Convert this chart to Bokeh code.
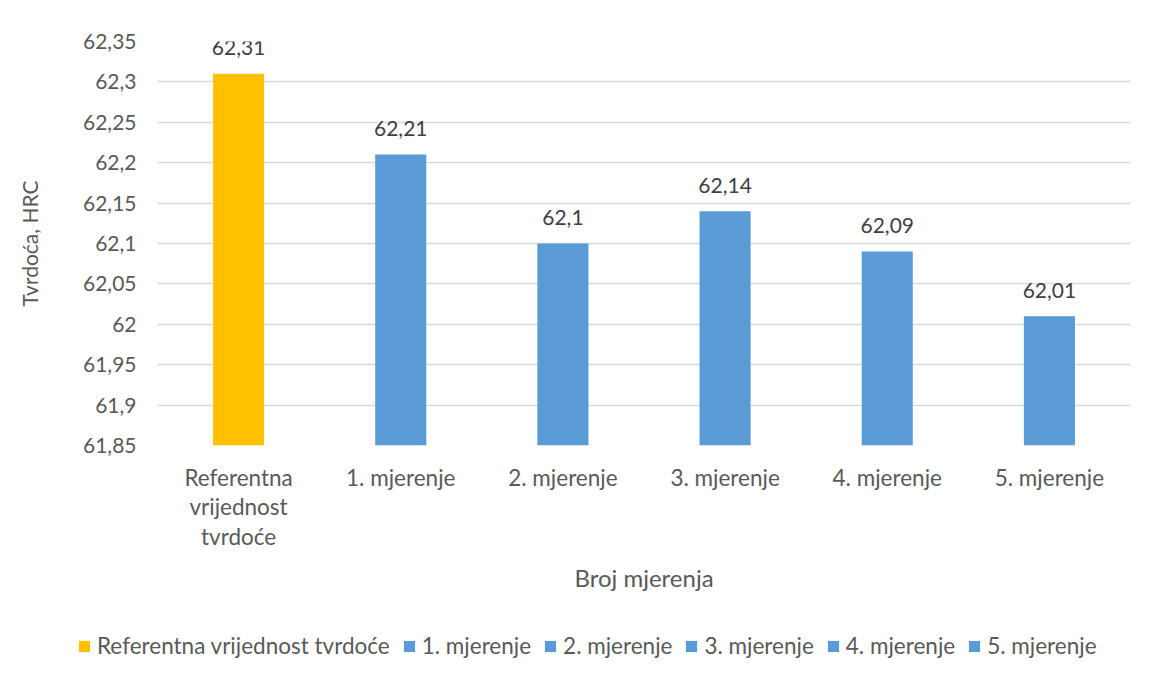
from bokeh.plotting import figure
from bokeh.models import (ColumnDataSource, FactorRange, FixedTicker, CustomJSTickFormatter,
                          Legend, LegendItem, LabelSet, Range1d)
from bokeh.core.properties import value
from bokeh.embed import file_html
from bokeh.resources import INLINE

categories = ["Referentna\nvrijednost\ntvrdoće", "1. mjerenje", "2. mjerenje",
              "3. mjerenje", "4. mjerenje", "5. mjerenje"]
legend_names = ["Referentna vrijednost tvrdoće", "1. mjerenje", "2. mjerenje",
                "3. mjerenje", "4. mjerenje", "5. mjerenje"]
values = [62.31, 62.21, 62.10, 62.14, 62.09, 62.01]
value_labels = ["62,31", "62,21", "62,1", "62,14", "62,09", "62,01"]
colors = ["#FFC000", "#5B9BD5", "#5B9BD5", "#5B9BD5", "#5B9BD5", "#5B9BD5"]
y_ticks = [61.85, 61.9, 61.95, 62.0, 62.05, 62.1, 62.15, 62.2, 62.25, 62.3, 62.35]

FONT = "Lato"
GRAY = "#595959"

p = figure(width=1133, height=610, x_range=FactorRange(*categories),
           y_range=Range1d(61.85, 62.35), output_backend="svg", toolbar_location=None,
           min_border_left=157, min_border_right=3, min_border_top=41, min_border_bottom=165)
p.outline_line_color = None
p.background_fill_color = "white"
p.border_fill_color = "white"

for i, cat in enumerate(categories):
    src = ColumnDataSource(dict(x=[cat], top=[values[i]], lab=[value_labels[i]]))
    p.vbar(x="x", top="top", bottom=61.85, width=0.315, source=src,
           fill_color=colors[i], line_color=None)
    ls = LabelSet(x="x", y="top", text="lab", source=src, text_align="center",
                  text_baseline="middle", y_offset=26, text_font=value(FONT),
                  text_font_size="21px", text_color="#404040")
    p.add_layout(ls)

p.yaxis.ticker = FixedTicker(ticks=y_ticks)
p.yaxis.formatter = CustomJSTickFormatter(code="""
var s = tick.toFixed(2);
s = s.replace(/0+$/, '').replace(/\\.$/, '');
return s.replace('.', ',');
""")
for ax in (p.xaxis, p.yaxis):
    ax.axis_line_color = None
    ax.major_tick_line_color = None
    ax.minor_tick_line_color = None
    ax.major_label_text_font = FONT
    ax.major_label_text_font_size = "21px"
    ax.major_label_text_color = GRAY
    ax.axis_label_text_font = FONT
    ax.axis_label_text_font_size = "21px"
    ax.axis_label_text_color = GRAY
    ax.axis_label_text_font_style = "normal"

p.yaxis.major_label_standoff = 15
p.yaxis.axis_label = "Tvrdoća, HRC"
p.yaxis.axis_label_standoff = 38
p.xaxis.major_label_standoff = 12
p.xaxis.major_label_text_font_size = "22.5px"
p.xaxis.major_label_text_line_height = 1.1
p.xaxis.axis_label = "Broj mjerenja"
p.xaxis.axis_label_text_font_size = "24px"
p.xaxis.axis_label_standoff = 10

p.xgrid.grid_line_color = None
p.ygrid.grid_line_color = "#d9d9d9"
p.ygrid.grid_line_width = 1.5

# legend strip below the chart (separate root so its frame starts at the left edge)
lg = figure(width=1133, height=65, x_range=Range1d(0, 1), y_range=Range1d(0, 1),
            output_backend="svg", toolbar_location=None, x_axis_type=None, y_axis_type=None,
            min_border_left=0, min_border_right=0, min_border_top=0, min_border_bottom=0)
lg.outline_line_color = None
lg.background_fill_color = "white"
lg.border_fill_color = "white"
items = []
for i, name in enumerate(legend_names):
    r = lg.vbar(x=[5], top=[6], bottom=[5], width=0.3, fill_color=colors[i], line_color=None)
    items.append(LegendItem(label=name, renderers=[r]))
legend = Legend(items=items, orientation="horizontal", location=(77, 16),
                glyph_width=14, glyph_height=14, label_text_font=FONT,
                label_text_font_size="22.5px", label_text_color=GRAY,
                label_standoff=6, spacing=12, padding=0, margin=0,
                border_line_color=None, background_fill_alpha=0)
lg.add_layout(legend)

open("out.html", "w").write(file_html([p, lg], INLINE))
